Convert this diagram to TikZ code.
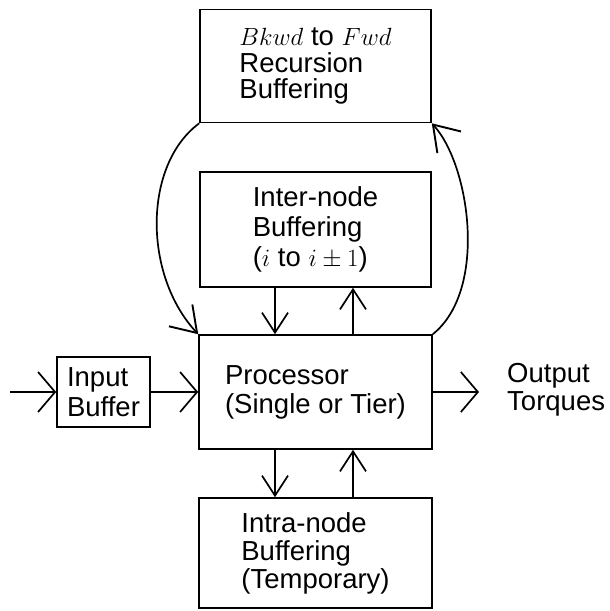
\documentclass[tikz,border=0pt]{standalone}
\usepackage{fontspec}
\setmainfont{Liberation Sans}
\usetikzlibrary{arrows.meta}
\begin{document}
\begin{tikzpicture}[x=1pt,y=-1pt,
  box/.style={draw, line width=1.6pt, inner sep=0pt, align=left},
  plain/.style={inner sep=0pt, align=left},
  fs/.style={font=\fontsize{27.5}{#1}\selectfont},
  harr/.style={line width=1.6pt, -{Straight Barb[length=17pt,width=40pt,line width=1.7pt]}},
  varr/.style={line width=1.6pt, -{Straight Barb[length=20pt,width=26pt,line width=1.7pt]}},
  carr/.style={line width=1.7pt, -{Straight Barb[length=24pt,width=32pt,line width=1.9pt]}}]
\useasboundingbox (0,0) rectangle (610,611);
% boxes
\node[box, fs=26.5, minimum width=231pt, minimum height=113pt] (top) at (315.5,66)
  {$Bkwd$ to $Fwd$\\Recursion\\Buffering};
\node[box, fs=30, minimum width=231pt, minimum height=115pt] (inter) at (315.5,229.5)
  {Inter-node\\Buffering\\($i$ to $i\pm1$)};
\node[box, fs=29, minimum width=233pt, minimum height=114pt] (proc) at (315.5,392)
  {Processor\\(Single or Tier)};
\node[box, fs=28, minimum width=233pt, minimum height=110pt] (intra) at (315.5,553)
  {Intra-node\\Buffering\\(Temporary)};
\node[box, fs=30, minimum width=93pt, minimum height=70pt] (inp) at (103.5,392)
  {Input\\Buffer};
\node[plain, fs=28, anchor=west] (outtxt) at (507,390) {Output\\Torques};
% free ends and columns
\coordinate (src) at (10,392);
\coordinate (dst) at (479,392);
\coordinate (cl) at (275,0);
\coordinate (cr) at (353,0);
% horizontal arrows
\draw[harr] (src) -- (inp.west);
\draw[harr] (inp.east) -- (proc.west);
\draw[harr] (proc.east) -- (dst);
% vertical arrows
\draw[varr] (inter.south -| cl) -- (proc.north -| cl);
\draw[varr] (proc.north -| cr) -- (inter.south -| cr);
\draw[varr] (proc.south -| cl) -- (intra.north -| cl);
\draw[varr] (intra.north -| cr) -- (proc.south -| cr);
% curved arrows
\draw[carr] (top.south west) .. controls (143,165) and (143,275) .. (proc.north west);
\draw[carr] (proc.north east) .. controls (488,290) and (470,165) .. (top.south east);
\end{tikzpicture}
\end{document}
